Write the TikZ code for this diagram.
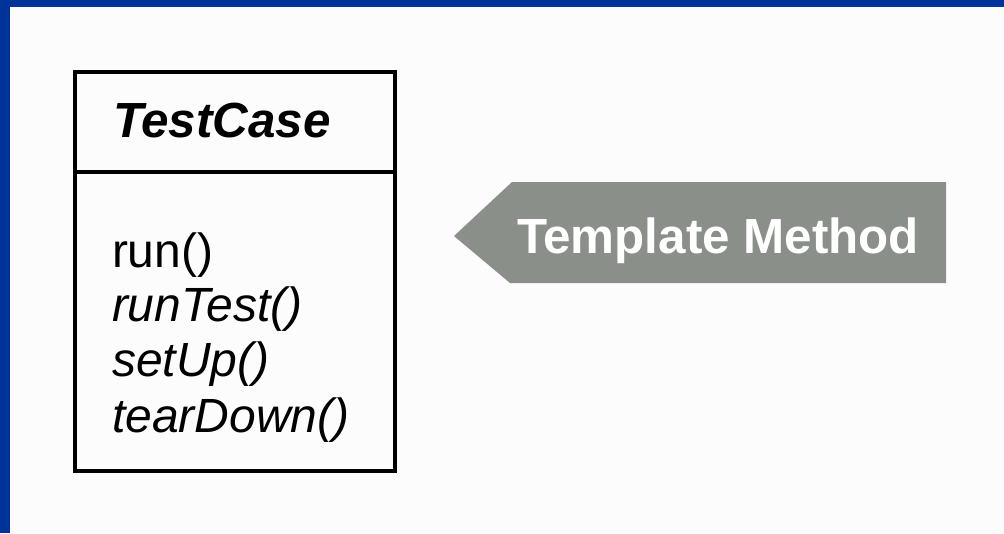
\documentclass[tikz,border=0pt]{standalone}
\usepackage{fontspec}
\setmainfont{Liberation Sans}
\definecolor{frameblue}{HTML}{003399}
\definecolor{bgwhite}{HTML}{FCFCFC}
\definecolor{taggray}{HTML}{8A8F8A}
\begin{document}
\begin{tikzpicture}[x=0.75pt,y=-0.75pt,
  txt/.style={inner sep=0pt,outer sep=0pt,anchor=base west},
  method/.style={txt,font=\fontsize{36}{40}\selectfont},
  classbox/.style={draw=black,line width=3pt}]
\useasboundingbox (0,0) rectangle (1004,533);
\fill[bgwhite] (0,0) rectangle (1004,533);
\fill[frameblue] (0,0) rectangle (1004,7);
\fill[frameblue] (0,0) rectangle (10,533);
% class box
\draw[classbox] (75,72) rectangle (395,471);
\draw[classbox] (75,172) -- (395,172);
\node[txt,font=\fontsize{37}{40}\selectfont\bfseries\itshape] (name) at (113,137) {TestCase};
\node[method] (m1) at (112,267) {run()};
\node[method,font=\fontsize{36}{40}\selectfont\itshape] (m2) at (112,321) {runTest()};
\node[method,font=\fontsize{36}{40}\selectfont\itshape] (m3) at (112,376) {setUp()};
\node[method,font=\fontsize{36}{40}\selectfont\itshape] (m4) at (112,432) {tearDown()};
% tag
\fill[taggray] (454,236) -- (512,182) -- (946,182) -- (946,283) -- (510,283) -- cycle;
\node[txt,text=white,font=\fontsize{37}{40}\selectfont\bfseries] (tag) at (517,253) {Template Method};
\end{tikzpicture}
\end{document}
